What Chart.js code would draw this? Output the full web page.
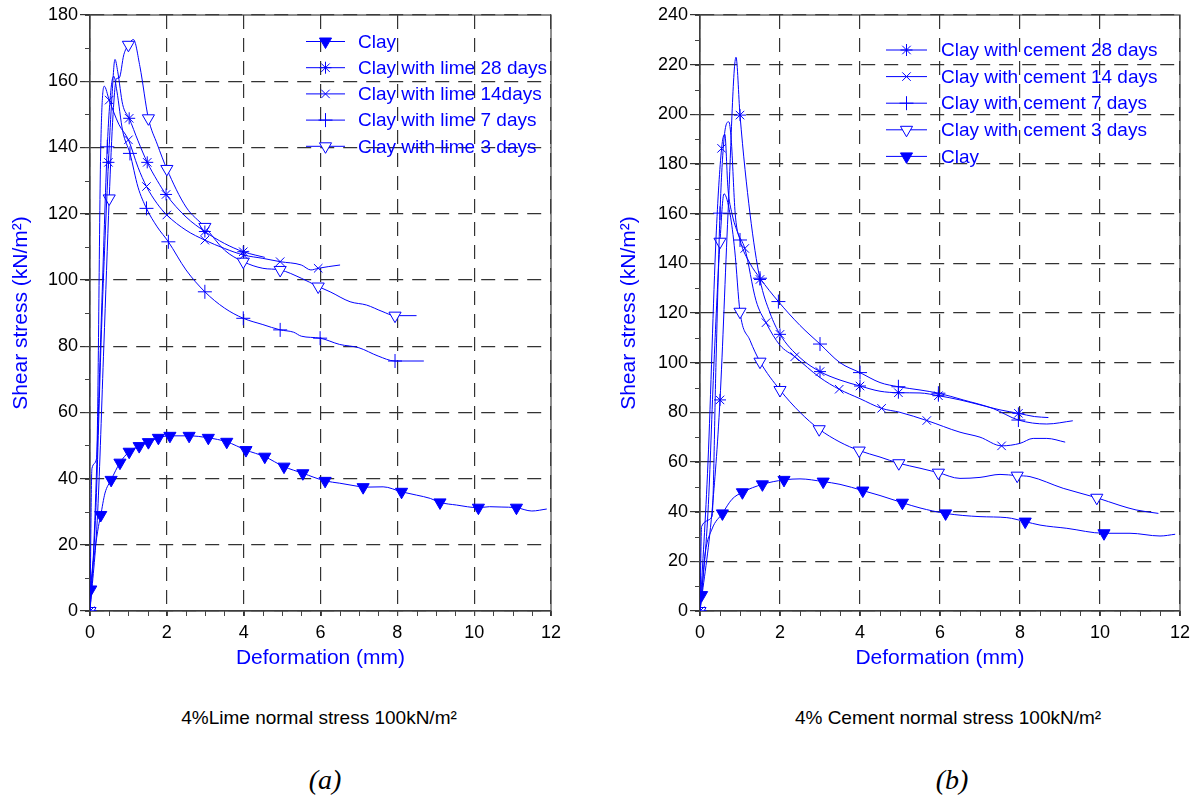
<!DOCTYPE html>
<html>
<head>
<meta charset="utf-8">
<script src="https://cdn.jsdelivr.net/npm/chart.js@4.4.1/dist/chart.umd.min.js"></script>
<style>
  body { margin: 0; background: #fff; width: 1201px; height: 800px; position: relative; overflow: hidden;
         font-family: Arial, "Liberation Sans", sans-serif; }
  canvas { position: absolute; top: 0; }
  #cLime { left: 0; }
  #cCem { left: 600px; }
  .cap { position: absolute; font-size: 19px; color: #000; transform: translateX(-50%); white-space: nowrap; }
  .tag { position: absolute; font: italic 28px "Liberation Serif", "Times New Roman", serif; transform: translateX(-50%); }
</style>
</head>
<body>
<canvas id="cLime" width="600" height="690"></canvas>
<canvas id="cCem" width="601" height="690"></canvas>
<div class="cap" style="left:319px; top:707px">4%Lime normal stress 100kN/m²</div>
<div class="tag" style="left:325px; top:764px">(a)</div>
<div class="cap" style="left:948px; top:707px">4% Cement normal stress 100kN/m²</div>
<div class="tag" style="left:952px; top:764px">(b)</div>
<script>
const BLUE = '#0000ff';
const FONT = 'Arial, "Liberation Sans", sans-serif';

// ---- (a) lime, normal stress 100 kN/m2 ----
const limeClayX = [0, 0.02, 0.13, 0.22, 0.28, 0.39, 0.55, 0.78, 1.02, 1.28, 1.52, 1.78, 2.08, 2.58, 3.08, 3.56, 4.06, 4.55, 5.05, 5.54, 6.12, 6.5, 7.0, 7.11, 7.63, 8.11, 8.5, 8.86, 9.11, 9.54, 10.11, 10.4, 10.7, 11.1, 11.5, 11.89];
const limeClayY = [0, 6.5, 18.4, 25.5, 29, 35.6, 39.6, 44.8, 48.1, 49.8, 51, 52.3, 52.9, 52.9, 52.3, 51.1, 48.6, 46.6, 43.6, 41.6, 39.3, 38.6, 37.6, 37.4, 37.5, 36, 35, 34, 32.8, 32, 31.2, 31.5, 31.4, 31.2, 30.2, 30.8];
const limeClayMarks = [1, 4, 6, 7, 8, 9, 10, 11, 12, 13, 14, 15, 16, 17, 18, 19, 20, 23, 25, 28, 30, 33];

const lime28X = [0, 0.15, 0.3, 0.48, 0.57, 0.65, 0.72, 0.85, 1.02, 1.25, 1.49, 1.75, 1.98, 2.5, 2.99, 3.5, 3.99, 4.3, 4.55];
const lime28Y = [0, 30, 85, 135.5, 155, 166.6, 163, 153, 148.8, 142, 135.5, 130, 125.8, 119, 114.6, 111, 108.5, 107.5, 106.8];
const lime28Marks = [0, 3, 8, 10, 12, 14, 16];

const lime14X = [0, 0.05, 0.17, 0.28, 0.37, 0.5, 0.75, 1.0, 1.25, 1.47, 1.75, 2.0, 2.5, 2.99, 3.5, 4.0, 4.5, 4.95, 5.5, 5.75, 5.94, 6.2, 6.51];
const lime14Y = [0, 43, 46, 140, 158.5, 154.3, 147, 142.3, 134, 128.2, 123, 119.6, 115, 112, 109.5, 107.5, 106.5, 105.5, 104.5, 103, 103.5, 104, 104.5];
const lime14Marks = [0, 5, 7, 9, 11, 13, 15, 17, 20];

const lime7X = [0, 0.1, 0.3, 0.45, 0.55, 0.62, 0.7, 0.85, 1.04, 1.25, 1.47, 1.75, 2.04, 2.5, 2.99, 3.5, 3.99, 4.5, 4.95, 5.3, 5.5, 5.99, 6.5, 7.0, 7.5, 7.94, 8.69];
const lime7Y = [0, 20, 90, 140.2, 158, 161.5, 157, 145, 138.2, 128, 121.6, 116, 111.5, 103, 96.4, 91.5, 88.4, 86.5, 84.9, 84.2, 83, 82.4, 80.5, 79.5, 77, 75.5, 75.5];
const lime7Marks = [0, 3, 8, 10, 12, 14, 16, 18, 21, 25];

const lime3X = [0, 0.2, 0.36, 0.5, 0.6, 0.69, 0.76, 0.88, 1.0, 1.13, 1.3, 1.52, 1.75, 2.0, 2.5, 2.99, 3.5, 3.99, 4.5, 4.95, 5.5, 5.94, 6.25, 6.77, 7.2, 7.6, 7.94, 8.5];
const lime3Y = [0, 30, 80, 124.6, 150, 160.8, 161, 168, 171, 172.6, 164.4, 148.8, 141, 133.5, 122, 116, 109, 105.5, 103.5, 103, 100.5, 98, 96.4, 93.4, 92.4, 90.5, 89.2, 89.2];
const lime3Marks = [0, 3, 8, 11, 13, 15, 17, 19, 21, 26];

// ---- (b) cement, normal stress 100 kN/m2 ----
const cemClayX = [0, 0.04, 0.12, 0.3, 0.56, 0.8, 1.06, 1.56, 2.1, 2.5, 3.08, 3.5, 4.07, 4.5, 5.06, 5.5, 6.14, 7.0, 7.67, 8.13, 8.5, 9.17, 10.1, 10.75, 11.5, 11.88];
const cemClayY = [0, 6.4, 22, 33, 39.3, 45, 47.8, 51, 52.8, 53.2, 52.1, 51, 48.5, 46.5, 43.6, 41.5, 39.3, 38, 37.6, 36, 34.6, 33.3, 31.3, 31.3, 30.2, 30.9];
const cemClayMarks = [1, 4, 6, 7, 8, 10, 12, 14, 16, 19, 22];

const cem28X = [0, 0.3, 0.5, 0.7, 0.9, 1.0, 1.25, 1.5, 1.75, 2.0, 2.5, 3.0, 3.5, 4.0, 4.5, 4.96, 5.5, 5.96, 6.5, 7.0, 7.5, 7.96, 8.36, 8.71];
const cem28Y = [0, 40, 85, 160, 223, 199.7, 160, 133.5, 120, 111.4, 102, 96.4, 93, 90.6, 88.5, 87.9, 87.8, 86.7, 85, 83, 81, 79.6, 78.3, 77.9];
const cem28Marks = [0, 2, 5, 7, 9, 11, 13, 15, 17, 21];

const cem14X = [0, 0.2, 0.4, 0.54, 0.62, 0.7, 0.8, 0.95, 1.12, 1.4, 1.65, 2.0, 2.37, 3.0, 3.48, 4.0, 4.54, 5.0, 5.67, 6.5, 7.0, 7.54, 8.0, 8.33, 8.67, 9.13];
const cem14Y = [0, 60, 150, 186.3, 192, 170, 160, 152, 146, 125, 116.1, 107, 102.4, 94, 89.3, 85.5, 81.6, 80, 76.7, 72, 70, 66.5, 67.5, 69.5, 69.5, 68];
const cem14Marks = [0, 3, 8, 10, 12, 14, 16, 18, 21];

const cem7X = [0, 0.04, 0.3, 0.4, 0.5, 0.6, 0.72, 0.78, 0.88, 1.0, 1.25, 1.5, 1.96, 2.5, 3.0, 3.5, 4.0, 4.5, 4.96, 5.5, 5.96, 6.58, 7.33, 7.96, 8.67, 9.32];
const cem7Y = [0, 34, 38, 100, 160.2, 190, 197, 190, 160, 149.4, 140, 134, 124.6, 115, 107.5, 100, 96, 92, 90.3, 89, 87.7, 85, 81.5, 76.9, 75.3, 76.6];
const cem7Marks = [0, 4, 9, 11, 12, 14, 16, 18, 20, 23];

const cem3X = [0, 0.2, 0.35, 0.5, 0.6, 0.75, 0.87, 1.0, 1.25, 1.5, 2.0, 2.5, 2.98, 3.5, 3.98, 4.5, 4.97, 5.5, 5.96, 6.5, 7.0, 7.5, 7.93, 8.25, 9.08, 9.92, 10.5, 10.9, 11.46];
const cem3Y = [0, 40, 100, 148.7, 168, 160, 145, 120.5, 109, 100.4, 89, 80, 73.2, 68, 64.6, 62, 59.5, 57.5, 55.7, 53.4, 53.8, 55, 54.5, 54.1, 49.4, 45.6, 42.5, 40.7, 39.3];
const cem3Marks = [0, 3, 7, 9, 10, 12, 14, 16, 18, 22, 25];

const MARK = {
  clay: { shape: 'triangle', rot: 180, fill: BLUE, r: 7 },
  d28: { shape: 'star', rot: 0, fill: 'rgba(0,0,0,0)', r: 6 },
  d14: { shape: 'crossRot', rot: 0, fill: 'rgba(0,0,0,0)', r: 6 },
  d7: { shape: 'cross', rot: 0, fill: 'rgba(0,0,0,0)', r: 7 },
  d3: { shape: 'triangle', rot: 180, fill: '#fff', r: 7 }
};

function series(label, xs, ys, marks, m) {
  return {
    label,
    data: xs.map((x, i) => ({ x, y: ys[i] })),
    showLine: true,
    borderColor: BLUE,
    borderWidth: 1,
    cubicInterpolationMode: 'monotone',
    pointStyle: m.shape,
    pointRotation: m.rot,
    pointBackgroundColor: m.fill,
    pointBorderColor: BLUE,
    pointBorderWidth: 1,
    pointRadius: c => marks.includes(c.dataIndex) ? m.r : 0,
    pointHoverRadius: c => marks.includes(c.dataIndex) ? m.r : 0,
    legendRadius: m.r
  };
}

// solid frame round the plot + minor ticks
const framePlugin = {
  id: 'frame',
  beforeDatasetsDraw(chart, args, opts) {
    const { ctx, chartArea: a, scales: { x, y } } = chart;
    ctx.save();
    ctx.strokeStyle = '#444';
    ctx.lineWidth = 1.2;
    ctx.strokeRect(a.left, a.top, a.right - a.left, a.bottom - a.top);
    ctx.beginPath();
    for (let v = x.min; v <= x.max; v += opts.xMinor) {
      const px = Math.round(x.getPixelForValue(v)) + 0.5;
      ctx.moveTo(px, a.bottom); ctx.lineTo(px, a.bottom + 5);
    }
    for (let v = y.min; v <= y.max; v += opts.yMinor) {
      const py = Math.round(y.getPixelForValue(v)) + 0.5;
      ctx.moveTo(a.left - 5, py); ctx.lineTo(a.left, py);
    }
    ctx.lineWidth = 1;
    ctx.stroke();
    ctx.restore();
  }
};

// legend drawn inside the plot, line + marker + label
const legendPlugin = {
  id: 'boxLegend',
  afterDatasetsDraw(chart, args, opts) {
    const ctx = chart.ctx;
    ctx.save();
    ctx.font = '19px ' + FONT;
    ctx.textBaseline = 'middle';
    opts.order.forEach((i, row) => {
      const ds = chart.data.datasets[i];
      const y = opts.top + row * opts.rowH;
      ctx.strokeStyle = ds.borderColor;
      ctx.lineWidth = 1;
      ctx.beginPath();
      ctx.moveTo(opts.left, y);
      ctx.lineTo(opts.left + opts.lineLen, y);
      ctx.stroke();
      if (Chart.helpers && Chart.helpers.drawPoint) {
        ctx.fillStyle = ds.pointBackgroundColor;
        Chart.helpers.drawPoint(ctx, { pointStyle: ds.pointStyle, rotation: ds.pointRotation,
          radius: ds.legendRadius, borderWidth: 1 }, opts.left + opts.lineLen / 2, y);
      }
      ctx.fillStyle = BLUE;
      ctx.fillText(ds.label, opts.textX, y + 1);
    });
    ctx.restore();
  }
};

function axisX() {
  return {
    type: 'linear', min: 0, max: 12,
    afterFit: s => { s.height = 70; },
    ticks: { stepSize: 2, color: '#000', font: { size: 18, family: FONT }, padding: 6, maxRotation: 0 },
    grid: { color: '#333', lineWidth: 1.2, tickLength: 5, tickColor: '#333' },
    border: { display: true, color: '#333', width: 1.2, dash: [14, 9] },
    title: { display: true, text: 'Deformation (mm)', color: BLUE, font: { size: 21, family: FONT },
             padding: { top: 0, bottom: 10 } }
  };
}

function axisY(max, width, titlePad) {
  return {
    min: 0, max,
    afterFit: s => { s.width = width; },
    ticks: { stepSize: 20, color: '#000', font: { size: 18, family: FONT }, padding: 2 },
    grid: { color: '#333', lineWidth: 1.2, tickLength: 10, tickColor: '#333' },
    border: { display: true, color: '#333', width: 1.2, dash: [14, 9] },
    title: { display: true, text: 'Shear stress (kN/m²)', color: BLUE, font: { size: 21, family: FONT },
             padding: { top: titlePad, bottom: 0 } }
  };
}

function makeChart(id, datasets, yMax, yWidth, titlePad, pad, legend) {
  return new Chart(document.getElementById(id), {
    type: 'scatter',
    data: { datasets },
    options: {
      responsive: false,
      animation: false,
      devicePixelRatio: 1,
      layout: { padding: pad },
      plugins: {
        legend: { display: false },
        tooltip: { enabled: false },
        frame: { xMinor: 0.5, yMinor: 10 },
        boxLegend: legend
      },
      scales: { x: axisX(), y: axisY(yMax, yWidth, titlePad) }
    },
    plugins: [framePlugin, legendPlugin]
  });
}

makeChart('cLime', [
  series('Clay', limeClayX, limeClayY, limeClayMarks, MARK.clay),
  series('Clay with lime 28 days', lime28X, lime28Y, lime28Marks, MARK.d28),
  series('Clay with lime 14days', lime14X, lime14Y, lime14Marks, MARK.d14),
  series('Clay with lime 7 days', lime7X, lime7Y, lime7Marks, MARK.d7),
  series('Clay with lime 3 days', lime3X, lime3Y, lime3Marks, MARK.d3)
], 180, 90, 9, { top: 15, right: 49, bottom: 9, left: 0 },
  { order: [0, 1, 2, 3, 4], left: 306, lineLen: 39, textX: 358, top: 41.5, rowH: 26.2 });

makeChart('cCem', [
  series('Clay with cement 28 days', cem28X, cem28Y, cem28Marks, MARK.d28),
  series('Clay with cement 14 days', cem14X, cem14Y, cem14Marks, MARK.d14),
  series('Clay with cement 7 days', cem7X, cem7Y, cem7Marks, MARK.d7),
  series('Clay with cement 3 days', cem3X, cem3Y, cem3Marks, MARK.d3),
  series('Clay', cemClayX, cemClayY, cemClayMarks, MARK.clay)
], 240, 100, 17, { top: 15, right: 21, bottom: 9, left: 0 },
  { order: [0, 1, 2, 3, 4], left: 286, lineLen: 41, textX: 341, top: 50, rowH: 26.6 });
</script>
</body>
</html>
